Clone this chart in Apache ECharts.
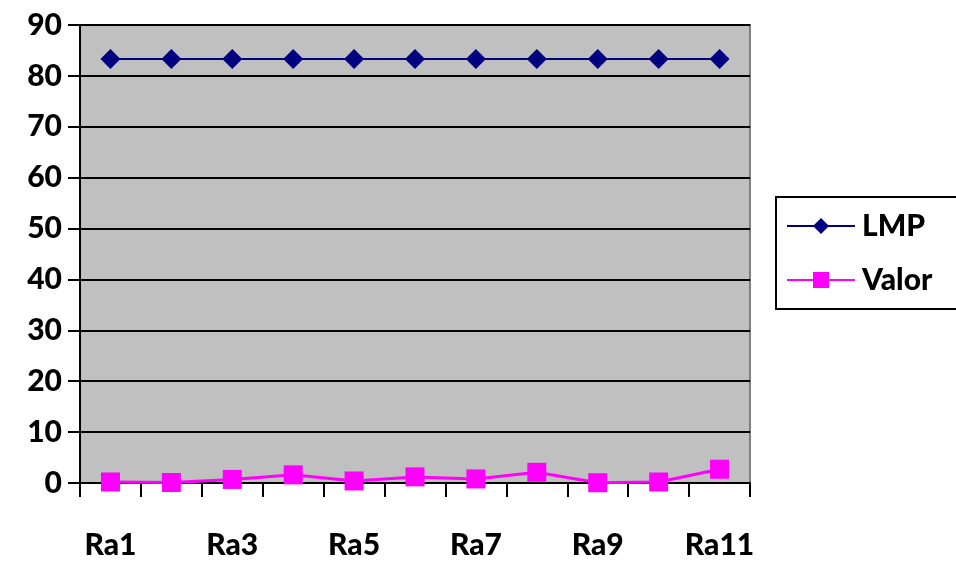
<!DOCTYPE html>
<html><head><meta charset="utf-8">
<script src="https://cdn.jsdelivr.net/npm/echarts@6/dist/echarts.min.js"></script>
<style>html,body{margin:0;padding:0;background:#fff}#c{width:956px;height:561px}</style>
</head><body><div id="c"></div>
<script>
const categories = ['Ra1','Ra2','Ra3','Ra4','Ra5','Ra6','Ra7','Ra8','Ra9','Ra10','Ra11'];
const lmp = [83.3,83.3,83.3,83.3,83.3,83.3,83.3,83.3,83.3,83.3,83.3];
const valor = [0.2,0.1,0.7,1.6,0.4,1.2,0.8,2.1,0.05,0.2,2.7];
const yTicks = {min:0, max:90, interval:10};

const chart = echarts.init(document.getElementById('c'));
const font = 'Lato, "Open Sans", sans-serif';
chart.setOption({
  animation:false,
  grid:{left:80, top:25, right:206, bottom:78, show:true, backgroundColor:'#C0C0C0', borderColor:'#808080', borderWidth:2},
  xAxis:{type:'category', data:categories, boundaryGap:true,
    axisLine:{lineStyle:{color:'#000', width:2}},
    axisTick:{show:true, interval:0, length:14, lineStyle:{color:'#000', width:2}},
    axisLabel:{interval:1, margin:47, color:'#000', fontSize:30, fontWeight:900, fontFamily:font},
    splitLine:{show:false}},
  yAxis:{type:'value', min:yTicks.min, max:yTicks.max, interval:yTicks.interval,
    axisLine:{show:true, lineStyle:{color:'#000', width:2}},
    axisTick:{show:true, length:12, lineStyle:{color:'#000', width:2}},
    axisLabel:{margin:18, color:'#000', fontSize:30, fontWeight:900, fontFamily:font},
    splitLine:{show:true, lineStyle:{color:'#000', width:2}}},
  legend:{orient:'vertical', left:776, top:197, padding:[14,34,14,10],
    borderColor:'#000', borderWidth:2, backgroundColor:'#fff', itemGap:24,
    itemWidth:68, itemHeight:20,
    textStyle:{color:'#000', fontSize:30, fontWeight:900, fontFamily:font, padding:[0,0,0,2]},
    data:['LMP','Valor']},
  series:[
    {name:'LMP', type:'line', data:lmp, symbol:'diamond', symbolSize:20,
      lineStyle:{color:'#000080', width:2}, itemStyle:{color:'#000080'}},
    {name:'Valor', type:'line', data:valor, symbol:'rect', symbolSize:19,
      lineStyle:{color:'#FF00FF', width:3}, itemStyle:{color:'#FF00FF'}}
  ]
});
</script></body></html>
